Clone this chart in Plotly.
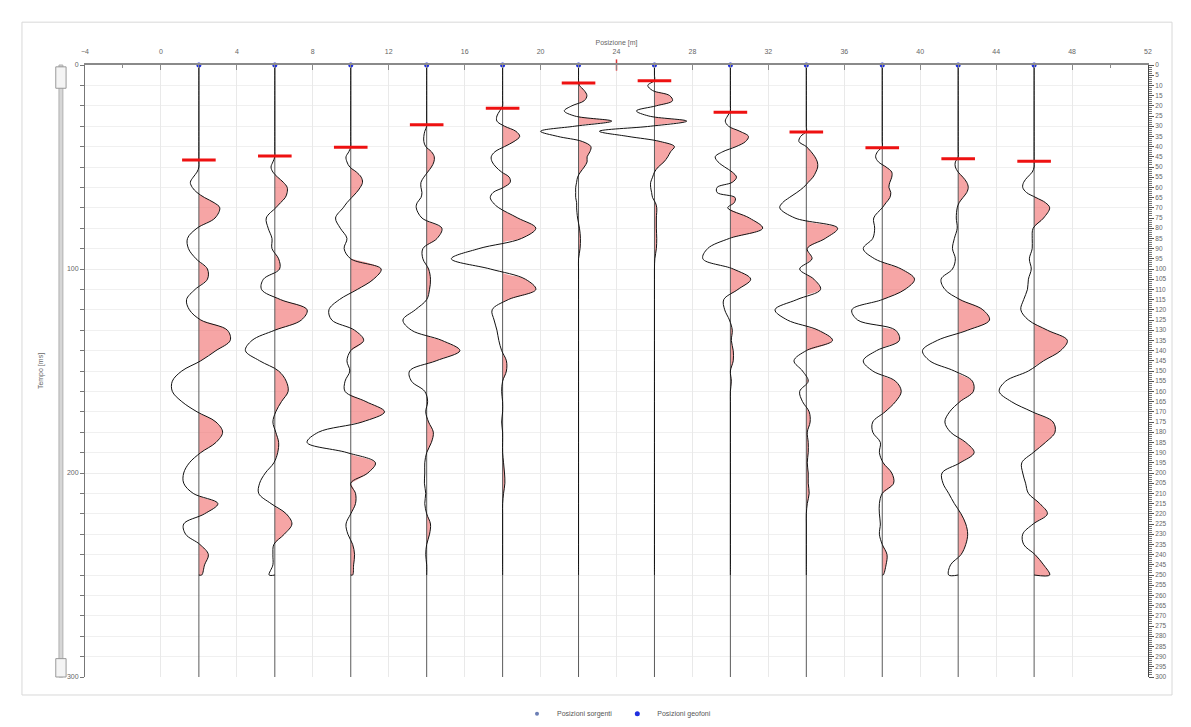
import plotly.graph_objects as go

# ---------------- data ----------------
TIME_MS = [0, 2.5, 5, 7.5, 10, 12.5, 15, 17.5, 20, 22.5, 25, 27.5, 30, 32.5, 35, 37.5,
           40, 42.5, 45, 47.5, 50, 52.5, 55, 57.5, 60, 62.5, 65, 67.5, 70,
           75, 80, 85, 90, 95, 100, 105, 110, 115, 120, 125, 130, 135, 140, 145, 150,
           155, 160, 165, 170, 175, 180, 185, 190, 195, 200, 205, 210, 215, 220, 225,
           230, 235, 240, 245, 250]

GEOPHONE_POS = [2, 6, 10, 14, 18, 22, 26, 30, 34, 38, 42, 46]
SOURCE_POS = [24]
FIRST_BREAK_MS = [46.6, 44.6, 40.3, 29.3, 21.2, 8.8, 7.7, 23.2, 32.8, 40.6, 45.9, 47.2]

trace_02 = [0]*20 + [0, -0.1, -0.3, -0.45, -0.35, -0.1, 0.3, 0.8, 1.1] + \
    [0.85, -0.1, -0.6, -0.55, -0.15, 0.45, 0.45, -0.2, -0.65, -0.5, 0.1, 1.5, 1.65, 0.9, 0.1,
     -0.9, -1.4, -1.4, -0.9, -0.1, 0.9, 1.25, 0.9, 0.1, -0.5, -0.8, -0.8, -0.3, 1.0, 0.3,
     -0.8, -0.7, 0.05, 0.5, 0.3, 0.15]
trace_06 = [0]*19 + [-0.1, -0.2, -0.1, 0.15, 0.45, 0.65, 0.65, 0.55, 0.3, 0.05] + \
    [-0.45, -0.35, -0.15, -0.15, 0.2, 0.25, -0.6, -0.7, 0.3, 1.7, 1.4, 0.0, -1.2, -1.55, -0.8,
     0.2, 0.6, 0.7, 0.35, 0.05, -0.1, 0.05, 0.2, 0.15, -0.05, -0.5, -0.8, -0.85, -0.2, 0.6,
     0.9, 0.5, -0.05, -0.1, -0.1, -0.3]
trace_10 = [0]*17 + [-0.1, -0.25, -0.2, -0.05, 0.3, 0.55, 0.62, 0.5, 0.3, 0.05, -0.2, -0.4] + \
    [-0.8, -0.55, -0.2, -0.35, 0.0, 1.6, 1.2, 0.35, -0.6, -1.15, -1.0, 0.2, 0.68, 0.0, -0.2,
     -0.05, -0.3, -0.3, 0.8, 1.78, 0.6, -1.7, -2.3, -0.2, 1.3, 0.9, 0.0, 0.25, 0.25, 0.0,
     -0.25, -0.15, 0.1, 0.2, 0.15, 0.1]
trace_14 = [0]*13 + [-0.1, -0.15, -0.15, -0.05, 0.25, 0.4, 0.38, 0.25, 0.05, -0.15, -0.3,
                     -0.3, -0.25, -0.3, -0.5, -0.55] + \
    [-0.25, 0.8, 0.55, -0.2, -0.2, 0.1, 0.2, 0.15, 0.0, -0.6, -1.25, -0.8, 0.8, 1.75, 0.5,
     -0.9, -0.8, -0.1, 0.05, -0.05, 0.1, 0.35, 0.25, 0.0, -0.1, -0.1, -0.12, -0.05, -0.1, 0.0,
     0.2, 0.15, 0.0, -0.05, 0.0, 0.0]
trace_18 = [0]*9 + [-0.15, -0.3, -0.3, 0.1, 0.7, 0.9, 0.6, 0.1, -0.4, -0.6, -0.55, -0.35,
                    -0.05, 0.35, 0.4, 0.05, -0.5, -0.65, -0.5, -0.2] + \
    [0.8, 1.75, 1.0, -1.25, -2.7, -0.65, 1.2, 1.75, 0.3, -0.55, -0.45, -0.3, -0.2, -0.05, 0.2,
     0.2, 0.0, -0.05, 0.0, 0.0, -0.05, 0.0, 0.0, 0.0, 0.05, 0.1, 0.12, 0.05, 0.0, 0.0,
     0.0, 0.0, 0.0, 0.0, 0.0, 0.0]
trace_22 = [0, 0, 0, 0, 0.05, 0.3, 0.44, 0.3, -0.35, -0.75, -0.2, 1.75, -0.2, -2.0, -1.1, 0.2,
            0.65, 0.6, 0.45, 0.45, 0.3, 0.1, -0.05, -0.1, -0.15, -0.15, -0.15, -0.1, -0.1] + \
    [-0.05, 0.05, 0.1, 0.08, 0.0] + [0]*31
trace_26 = [0, 0, 0, 0, -0.35, -0.1, 0.8, 0.95, 0.1, -0.95, -0.3, 1.7, -0.2, -2.9, -1.4, 0.3,
            1.05, 0.85, 0.7, 0.5, 0.2, 0.0, -0.1, -0.2, -0.2, -0.15, -0.1, 0.05, 0.12] + \
    [0.1, 0.1, 0.12, 0.1, 0.02] + [0]*31
trace_30 = [0]*10 + [-0.15, -0.27, -0.1, 0.5, 0.95, 0.8, 0.3, -0.4, -0.8, -0.65, -0.3, 0.1,
                     0.32, 0.1, -0.7, -0.7, 0.25, 0.2, -0.14] + \
    [1.0, 1.7, -0.05, -1.2, -1.45, 0.15, 1.07, 0.4, -0.35, -0.3, -0.05, 0.1, 0.05, 0.15, 0.15,
     0.0, 0.05, 0.0] + [0]*18
trace_34 = [0]*14 + [-0.3, -0.39, 0.0, 0.25, 0.45, 0.58, 0.6, 0.5, 0.35, 0.1, -0.15, -0.5,
                     -0.9, -1.25, -1.4] + \
    [-0.6, 1.65, 1.0, 0.05, 0.3, -0.35, 0.4, 0.75, -0.5, -1.65, -1.0, 0.63, 1.38, 0.0, -0.65,
     -0.2, 0.1, -0.35, -0.2, 0.15, 0.2, 0.05, 0.1, 0.1, 0.05, 0.1, 0.1, 0.15, 0.05, 0.0,
     0.0, 0.0, 0.0, 0.0, 0.0, 0.0]
trace_38 = [0]*17 + [-0.25, -0.35, -0.2, 0.2, 0.5, 0.5, 0.4, 0.35, 0.45, 0.4, 0.2, 0.0] + \
    [-0.45, -0.4, -0.5, -1.0, -0.4, 1.0, 1.7, 1.2, 0.0, -1.6, -1.3, 0.7, 0.9, -0.3, -1.0,
     -0.5, 0.7, 1.0, 0.7, 0.15, -0.5, -0.5, -0.1, -0.15, 0.05, 0.5, 0.6, 0.0, -0.15, -0.15,
     -0.1, -0.15, 0.0, 0.25, 0.2, 0.05]
trace_42 = [0]*19 + [-0.15, -0.15, 0.0, 0.25, 0.45, 0.53, 0.45, 0.25, 0.05, -0.05] + \
    [-0.1, -0.05, -0.2, -0.3, -0.15, -0.3, -0.9, -0.7, 0.1, 1.3, 1.65, 0.5, -1.1, -1.88, -1.5,
     -0.2, 0.75, 0.8, 0.1, -0.45, -0.7, -0.4, 0.4, 0.84, 0.1, -0.85, -0.8, -0.5, -0.2, 0.15,
     0.4, 0.5, 0.4, 0.15, -0.4, -0.5]
trace_46 = [0]*21 + [-0.1, -0.35, -0.55, -0.6, -0.4, 0.1, 0.6, 0.82] + \
    [0.5, -0.05, -0.1, -0.1, -0.25, -0.15, -0.3, -0.35, -0.55, -0.7, -0.3, 0.7, 1.75, 1.4, 0.5,
     -0.3, -1.5, -1.84, -1.2, -0.1, 1.0, 1.1, 0.6, -0.05, -0.65, -0.6, -0.45, -0.3, 0.3, 0.7,
     -0.05, -0.6, -0.55, 0.05, 0.5, 0.82]

TRACES = [trace_02, trace_06, trace_10, trace_14, trace_18, trace_22,
          trace_26, trace_30, trace_34, trace_38, trace_42, trace_46]

T_MAX = 300

# ---------------- helpers ----------------
def positive_lobes(pos, t, a):
    xs, ys = [pos], [t[0]]
    for i in range(len(t)):
        if i > 0:
            a0, a1 = a[i - 1], a[i]
            if (a0 > 0) != (a1 > 0) and a0 != a1:
                tc = t[i - 1] + (t[i] - t[i - 1]) * a0 / (a0 - a1)
                xs.append(pos)
                ys.append(tc)
        xs.append(pos + max(a[i], 0))
        ys.append(t[i])
    xs.append(pos)
    ys.append(t[-1])
    return xs, ys


fig = go.Figure()

# positive fills
for pos, amp in zip(GEOPHONE_POS, TRACES):
    fx, fy = positive_lobes(pos, TIME_MS, amp)
    fig.add_trace(go.Scatter(x=fx, y=fy, mode="lines", fill="toself",
                             fillcolor="rgba(240,110,110,0.62)",
                             line=dict(width=0, shape="spline"),
                             hoverinfo="skip", showlegend=False))

# baselines
bx, by = [], []
for pos in GEOPHONE_POS:
    bx += [pos, pos, None]
    by += [0, T_MAX, None]
fig.add_trace(go.Scatter(x=bx, y=by, mode="lines", line=dict(color="#5a5a5a", width=1),
                         hoverinfo="skip", showlegend=False))

# wiggles
for pos, amp in zip(GEOPHONE_POS, TRACES):
    fig.add_trace(go.Scatter(x=[pos + v for v in amp] + [pos], y=TIME_MS + [TIME_MS[-1]],
                             mode="lines", line=dict(color="#111111", width=1, shape="spline"),
                             showlegend=False))

# first-break picks
fig.add_trace(go.Scatter(x=GEOPHONE_POS, y=FIRST_BREAK_MS, mode="markers",
                         marker=dict(symbol="line-ew", size=24,
                                     line=dict(color="#ee1111", width=3)),
                         showlegend=False))

# source tick on the axis
fig.add_trace(go.Scatter(x=SOURCE_POS, y=[0], mode="markers", cliponaxis=False,
                         marker=dict(symbol="line-ns", size=8, line=dict(color="#dd3333", width=1.5)),
                         showlegend=False))

# legend entries
fig.add_trace(go.Scatter(x=[None], y=[None], mode="markers", name="Posizioni sorgenti",
                         marker=dict(symbol="circle", size=4, color="#6c7fb5")))
fig.add_trace(go.Scatter(x=GEOPHONE_POS, y=[0] * len(GEOPHONE_POS), mode="markers",
                         name="Posizioni geofoni", cliponaxis=False,
                         marker=dict(symbol="circle", size=5, color="#1f2fe0")))

# dummy trace for right axis
fig.add_trace(go.Scatter(x=[None], y=[None], yaxis="y2", showlegend=False, hoverinfo="skip"))

tickfont = dict(family="Liberation Sans, Arial, sans-serif", size=7, color="#666666")

fig.update_layout(
    width=1175, height=711,
    margin=dict(l=77, r=35, t=57, b=42, autoexpand=False),
    paper_bgcolor="white", plot_bgcolor="white",
    font=dict(family="Liberation Sans, Arial, sans-serif", size=7, color="#555555"),
    xaxis=dict(range=[-4, 52], side="top", tick0=-4, dtick=4, showgrid=True,
               gridcolor="#e9e9e9", gridwidth=1, zeroline=False, automargin=False,
               showline=True, linecolor="#8a8a8a", linewidth=2,
               ticks="inside", ticklen=5, tickcolor="#8a8a8a", tickfont=tickfont,
               ticklabelstandoff=6,
               minor=dict(dtick=2, ticks="inside", ticklen=3, tickcolor="#8a8a8a", showgrid=False),
               title=dict(text="Posizione [m]", font=dict(size=7, color="#666666"), standoff=2)),
    yaxis=dict(range=[T_MAX, 0], tick0=0, dtick=100, showgrid=True, gridcolor="#ededed",
               zeroline=False, showline=True, linecolor="#777777", linewidth=1, automargin=False,
               ticks="outside", ticklen=4, tickcolor="#777777", tickfont=tickfont,
               minor=dict(dtick=10, ticks="outside", ticklen=4, tickcolor="#777777",
                          showgrid=True, gridcolor="#f0f0f0"),
               title=dict(text="Tempo [ms]", font=dict(size=7, color="#666666"), standoff=22)),
    yaxis2=dict(range=[T_MAX, 0], overlaying="y", side="right", tick0=0, dtick=5,
                showgrid=False, zeroline=False, showline=True, linecolor="#444444",
                linewidth=1, ticks="outside", ticklen=5, tickcolor="#555555", automargin=False,
                tickfont=dict(family="Liberation Sans, Arial, sans-serif", size=6.5, color="#666666"),
                minor=dict(dtick=1, ticks="outside", ticklen=3, tickcolor="#777777")),
    legend=dict(orientation="h", x=0.5, xanchor="center", y=-0.06, yanchor="middle",
                font=dict(size=7, color="#555555"), bgcolor="rgba(0,0,0,0)"),
    shapes=[
        # outer frame
        dict(type="rect", xref="paper", yref="paper", x0=-0.0593, x1=1.0226, y0=-0.0294, y1=1.070,
             line=dict(color="#d8d8d8", width=1), layer="below"),
        # left scroll bar
        dict(type="rect", xref="paper", yref="paper", x0=-0.0245, x1=-0.0208, y0=0.0, y1=1.0,
             line=dict(color="#b0b0b0", width=1), fillcolor="#d6d6d6"),
        dict(type="rect", xref="paper", yref="paper", x0=-0.0275, x1=-0.0178, y0=0.962, y1=0.997,
             line=dict(color="#999999", width=1), fillcolor="#f4f4f4"),
        dict(type="rect", xref="paper", yref="paper", x0=-0.0275, x1=-0.0178, y0=0.0, y1=0.03,
             line=dict(color="#999999", width=1), fillcolor="#f4f4f4"),
    ],
)

fig.write_html("out.html")
